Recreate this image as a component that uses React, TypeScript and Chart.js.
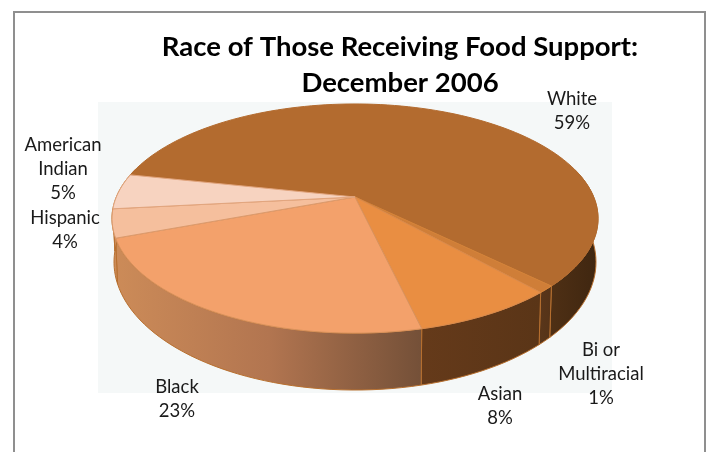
import { useEffect, useRef } from "react";
import { Chart, registerables } from "chart.js";

Chart.register(...registerables);

const categories = ["White", "Bi or Multiracial", "Asian", "Black", "Hispanic", "American Indian"];
const shares = [59, 1, 8, 23, 4, 5];
const labelLines = [["White"], ["Bi or", "Multiracial"], ["Asian"], ["Black"], ["Hispanic"], ["American", "Indian"]];
const titleLines = ["Race of Those Receiving Food Support:", "December 2006"];

const faceColors = ["#b36b2f", "#cf7e38", "#e98e42", "#f3a16b", "#f5bf9d", "#f7d3c0"];
const faceEdges = ["#b36b2f", "#d58338", "#d98a4c", "#d9925c", "#dc9a6c", "#e2a57e"];
const sideShades = [
  ["#4f3015", "#3f2610"],
  ["#5a361a", "#553318"],
  ["#653a1a", "#5a3517"],
  ["#cc8b58", "#b27550", "#745038"],
  ["#cc8b58", "#cc8b58"],
  ["#cc8b58", "#cc8b58"],
];
const labelAnchors = [
  [572, 99],
  [601, 350],
  [500, 394],
  [177, 387],
  [65, 218],
  [63, 145],
];

// Perspective map from the unit disc to a plane of the tilted pie.
const TILT = -0.188;
const topDisc = { cx: 355, a: 238.7, b: 73.5, c: 197 };
const baseDisc = { cx: 355, a: 236.7, b: 78.7, c: 238 };
const project = (d: typeof topDisc, angle: number) => {
  const u = Math.cos(angle);
  const v = Math.sin(angle);
  const w = 1 + TILT * v;
  return [d.cx + (d.a * u) / w, (d.b * v + d.c) / w];
};

const FRONT_START = (-15 * Math.PI) / 180;
const FRONT_END = (195 * Math.PI) / 180;

const samples = (from: number, to: number) => {
  const n = Math.max(2, Math.ceil(((to - from) * 180) / Math.PI / 2));
  return Array.from({ length: n + 1 }, (_, i) => from + ((to - from) * i) / n);
};

const drawSide = (ctx: CanvasRenderingContext2D, from: number, to: number, shades: string[]) => {
  const angles = samples(from, to);
  const upper = angles.map((a) => project(topDisc, a));
  const lower = angles.map((a) => project(baseDisc, a)).reverse();
  const outline = upper.concat(lower);
  const xs = outline.map((p) => p[0]);
  const grad = ctx.createLinearGradient(Math.min(...xs), 0, Math.max(...xs), 0);
  shades.forEach((s, i) => grad.addColorStop(i / (shades.length - 1), s));
  ctx.beginPath();
  outline.forEach((p, i) => (i ? ctx.lineTo(p[0], p[1]) : ctx.moveTo(p[0], p[1])));
  ctx.closePath();
  ctx.fillStyle = grad;
  ctx.fill();
  ctx.strokeStyle = "#b8702f";
  ctx.lineWidth = 1;
  ctx.stroke();
};

const tiltedPie = {
  id: "tiltedPie",
  beforeDraw(chart: Chart) {
    const { ctx } = chart;
    ctx.save();
    ctx.fillStyle = "#f5f8f8";
    ctx.fillRect(98, 102, 514, 291);
    ctx.strokeStyle = "#8f8f8f";
    ctx.lineWidth = 2;
    ctx.beginPath();
    ctx.moveTo(14, 460);
    ctx.lineTo(14, 12);
    ctx.lineTo(705, 12);
    ctx.lineTo(705, 460);
    ctx.stroke();
    ctx.restore();
  },
  beforeDatasetsDraw(chart: Chart) {
    const { ctx } = chart;
    const arcs = chart.getDatasetMeta(0).data as any[];
    ctx.save();
    ctx.lineJoin = "round";

    // Outer wall, limited to the part of the rim that faces the viewer.
    arcs.forEach((arc, i) => {
      [-2, 0, 2].forEach((turn) => {
        const shift = turn * Math.PI;
        const from = Math.max(arc.startAngle + shift, FRONT_START);
        const to = Math.min(arc.endAngle + shift, FRONT_END);
        if (to > from) drawSide(ctx, from, to, sideShades[i]);
      });
    });

    // Upper face of every slice, from the angles the pie controller computed.
    arcs.forEach((arc) => {
      const apex = [topDisc.cx, topDisc.c];
      ctx.beginPath();
      ctx.moveTo(apex[0], apex[1]);
      samples(arc.startAngle, arc.endAngle).forEach((a) => {
        const p = project(topDisc, a);
        ctx.lineTo(p[0], p[1]);
      });
      ctx.closePath();
      ctx.fillStyle = arc.options.backgroundColor;
      ctx.fill();
      ctx.strokeStyle = arc.options.borderColor;
      ctx.lineWidth = 1;
      ctx.stroke();
    });
    ctx.restore();
    return false;
  },
  afterDraw(chart: Chart) {
    const { ctx } = chart;
    ctx.save();
    ctx.font = "18.5px Lato";
    ctx.fillStyle = "#1a1a1a";
    ctx.textAlign = "center";
    ctx.textBaseline = "middle";
    const step = 24;
    labelLines.forEach((lines, i) => {
      const [x, y] = labelAnchors[i];
      [...lines, `${shares[i]}%`].forEach((line, j) => ctx.fillText(line, x, y + j * step));
    });
    ctx.restore();
  },
};

export default function App() {
  const canvasRef = useRef<HTMLCanvasElement>(null);

  useEffect(() => {
    document.body.style.margin = "0";
    const chart = new Chart(canvasRef.current!, {
      type: "pie",
      data: {
        labels: categories,
        datasets: [{ data: shares, backgroundColor: faceColors, borderColor: faceEdges }],
      },
      options: {
        animation: false,
        responsive: false,
        rotation: 282,
        layout: { padding: { left: 89, top: 0, right: 0, bottom: 0 } },
        plugins: {
          legend: { display: false },
          tooltip: { enabled: false },
          title: {
            display: true,
            text: titleLines,
            fullSize: false,
            color: "#000000",
            font: { family: "Lato", size: 27.5, weight: "bold", lineHeight: 1.31 },
            padding: { top: 29, bottom: 0 },
          },
        },
      },
      plugins: [tiltedPie],
    });
    return () => chart.destroy();
  }, []);

  return <canvas ref={canvasRef} width={711} height={452} style={{ display: "block" }} />;
}
